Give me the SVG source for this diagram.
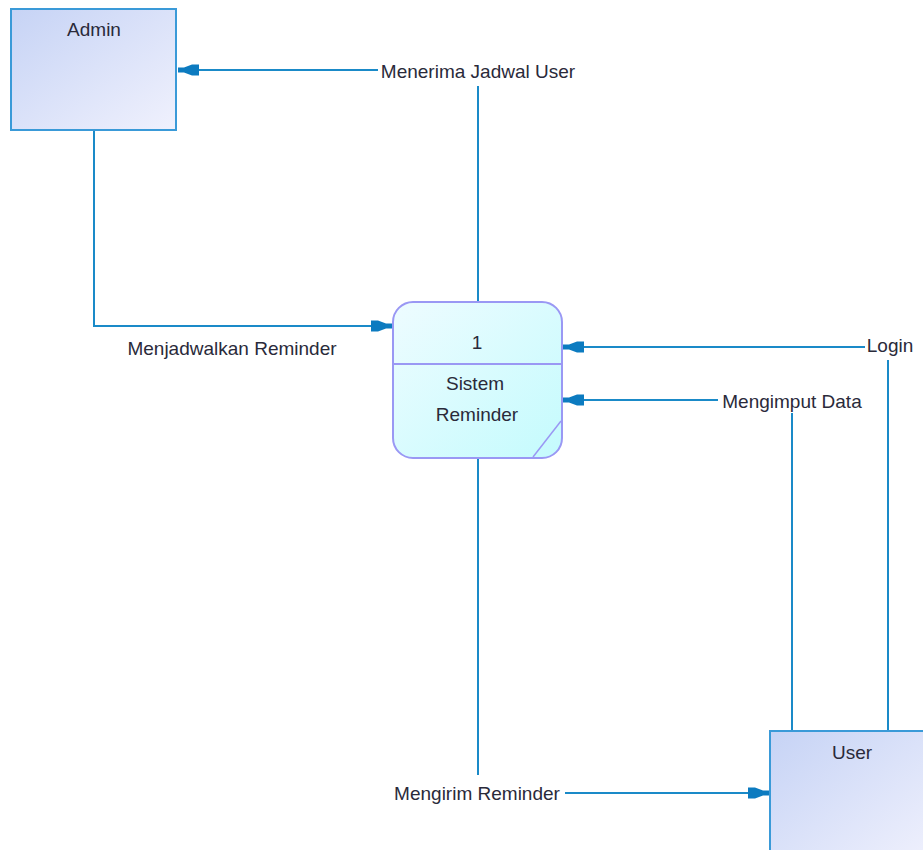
<svg xmlns="http://www.w3.org/2000/svg" width="923" height="850" viewBox="0 0 923 850">
<defs>
<linearGradient id="entGrad" x1="0" y1="0" x2="1" y2="1">
<stop offset="0" stop-color="#c6d3f5"/>
<stop offset="1" stop-color="#f0f1fd"/>
</linearGradient>
<linearGradient id="procGrad" x1="0" y1="0" x2="1" y2="1">
<stop offset="0" stop-color="#eefcff"/>
<stop offset="1" stop-color="#c4fbfd"/>
</linearGradient>
<marker id="arr" markerWidth="24" markerHeight="16" refX="23" refY="8" orient="auto" markerUnits="userSpaceOnUse">
<path d="M2,2.5 L9,2.5 L17,5.5 L23,5.5 L23,10.5 L17,10.5 L9,13.5 L2,13.5 Z" fill="#0c7bc0"/>
</marker>
<style>
.ent{fill:url(#entGrad);stroke:#3a9ad8;stroke-width:2}
.proc{fill:url(#procGrad);stroke:#9a98f4;stroke-width:2}
.ln{fill:none;stroke:#1a8ac8;stroke-width:2}
text{font-family:"Liberation Sans",Arial,sans-serif;font-size:19px;fill:#2a2a3a}
.mid{text-anchor:middle}
</style>
</defs>
<g id="connectors">
<polyline class="ln" points="478,302 478,86"/>
<polyline class="ln" points="378,70 178,70" marker-end="url(#arr)"/>
<polyline class="ln" points="94,130 94,326 392,326" marker-end="url(#arr)"/>
<polyline class="ln" points="888,731 888,360"/>
<polyline class="ln" points="865,347 563,347" marker-end="url(#arr)"/>
<polyline class="ln" points="792,731 792,413"/>
<polyline class="ln" points="718,400 563,400" marker-end="url(#arr)"/>
<polyline class="ln" points="478,458 478,775"/>
<polyline class="ln" points="565,793 769,793" marker-end="url(#arr)"/>
<text x="478" y="78" class="mid">Menerima Jadwal User</text>
<text x="232" y="355" class="mid">Menjadwalkan Reminder</text>
<text x="890" y="352" class="mid">Login</text>
<text x="792" y="408" class="mid">Mengimput Data</text>
<text x="477" y="800" class="mid">Mengirim Reminder</text>
</g>
<g id="admin">
<rect class="ent" x="11" y="9" width="165" height="121"/>
<text x="94" y="36" class="mid">Admin</text>
</g>
<g id="process1">
<rect class="proc" x="393" y="302" width="169" height="156" rx="20" ry="20"/>
<line x1="393" y1="364" x2="562" y2="364" stroke="#9a98f4" stroke-width="2"/>
<line x1="533" y1="457" x2="561" y2="421" stroke="#9a98f4" stroke-width="1.5"/>
<text x="477" y="349" class="mid">1</text>
<text x="475" y="390" class="mid">Sistem</text>
<text x="477" y="421" class="mid">Reminder</text>
</g>
<g id="user">
<rect class="ent" x="770" y="731" width="165" height="130"/>
<text x="852" y="759" class="mid">User</text>
</g>
</svg>
